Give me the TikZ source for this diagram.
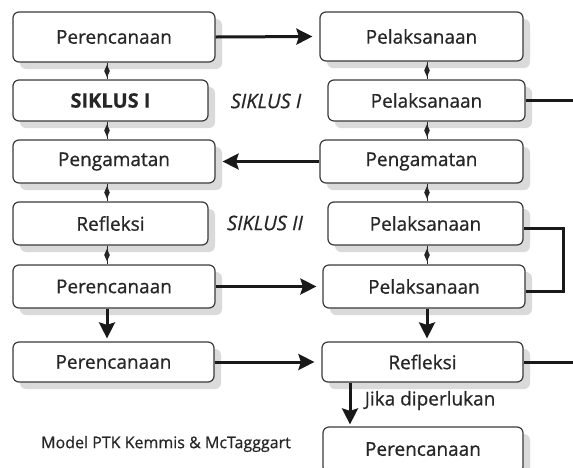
\documentclass[tikz,border=0pt]{standalone}
\usepackage{fontspec}
\setmainfont{Open Sans}
\newfontfamily\boxfont{Open Sans}[FakeBold=0.7]
\newfontfamily\boxbold{Open Sans Bold}[FakeBold=0.3]
\newfontfamily\labelfont{Open Sans Italic}[FakeBold=0.5]
\usetikzlibrary{shapes.geometric,shadows,arrows.meta}
\definecolor{bordergray}{HTML}{3A3A3A}
\definecolor{textgray}{HTML}{262626}
\definecolor{shadowgray}{HTML}{DADADA}
\tikzset{
  box/.style={draw=bordergray, line width=1.2pt, rounded corners=6pt, fill=white,
    drop shadow={shadow xshift=7pt, shadow yshift=-7pt, fill=shadowgray, opacity=1},
    text=textgray, font=\boxfont\fontsize{19}{21}\selectfont, inner sep=0pt},
  flow/.style={line width=3pt, draw=black!90, -{Stealth[length=16pt,width=16pt,inset=2.5pt]}},
  plainline/.style={line width=3pt, draw=black!90},
  link/.style={line width=1pt, draw=black!85},
  dia/.style={diamond, fill=black!85, inner sep=0pt, minimum width=6pt, minimum height=13pt},
  cyclelabel/.style={text=textgray, font=\labelfont\fontsize{20}{22}\selectfont},
}
\begin{document}
\begin{tikzpicture}[x=1pt,y=-1pt]
\useasboundingbox (0,0) rectangle (573,467);
\clip (0,0) rectangle (573,467);
% left column
\node[box, minimum width=202pt, minimum height=50pt] (L1) at (114,37) {Perencanaan};
\node[box, minimum width=195pt, minimum height=41pt, font=\boxbold\fontsize{20}{22}\selectfont] (L2) at (110.5,100.5) {SIKLUS I};
\node[box, minimum width=202pt, minimum height=43pt] (L3) at (114,161.5) {Pengamatan};
\node[box, minimum width=195pt, minimum height=43pt] (L4) at (110.5,223.5) {Refleksi};
\node[box, minimum width=202pt, minimum height=43pt] (L5) at (114,286.5) {Perencanaan};
\node[box, minimum width=201pt, minimum height=40pt] (L6) at (113.5,362) {Perencanaan};
% right column
\node[box, minimum width=203pt, minimum height=49pt] (R1) at (421.5,36.5) {Pelaksanaan};
\node[box, minimum width=197pt, minimum height=41pt] (R2) at (426.5,100.5) {Pelaksanaan};
\node[box, minimum width=203pt, minimum height=43pt] (R3) at (421.5,161.5) {Pengamatan};
\node[box, minimum width=195pt, minimum height=43pt] (R4) at (425.5,223.5) {Pelaksanaan};
\node[box, minimum width=202pt, minimum height=43pt] (R5) at (424,286.5) {Pelaksanaan};
\node[box, minimum width=201pt, minimum height=40pt] (R6) at (422.5,362) {Refleksi};
\node[box, minimum width=200pt, minimum height=46pt, text depth=0pt] (R7) at (423,450) {\raisebox{2pt}{Perencanaan}};
% labels
\node[cyclelabel] (S1) at (266,101) {SIKLUS I};
\node[cyclelabel] (S2) at (265,223) {SIKLUS II};
\node[text=textgray, font=\boxfont\fontsize{16}{18}\selectfont] (cap) at (166,444) {Model PTK Kemmis \& McTagggart};
% diamond links
\foreach \a/\b in {L1/L2,L2/L3,L3/L4,L4/L5}{
  \draw[link] (107,0 |- \a.south) -- (107,0 |- \b.north) node[dia, midway] {};
}
\foreach \a/\b in {R1/R2,R2/R3,R3/R4,R4/R5}{
  \draw[link] (427,0 |- \a.south) -- (427,0 |- \b.north) node[dia, midway] {};
}
% coordinates for free ends
\coordinate (E2) at (573,100.5);
\coordinate (E6) at (573,362);
\coordinate (loopx) at (563,0);
\coordinate (r4e) at ([yshift=-5pt]R4.east);
\coordinate (r5e) at ([yshift=-5pt]R5.east);
% flows
\draw[flow] (L1.east) -- ([xshift=-7pt]R1.west);
\draw[plainline] (R2.east) -- (E2);
\draw[flow] (R3.west) -- ([xshift=7pt]L3.east);
\draw[plainline] (r4e) -- (loopx |- r4e) -- (loopx |- r5e) -- (r5e);
\draw[flow] (L5.east) -- ([xshift=-6pt]R5.west);
\draw[flow] (107,0 |- L5.south) -- ([yshift=3pt]107,0 |- L6.north);
\draw[flow] (427,0 |- R5.south) -- ([yshift=3pt]427,0 |- R6.north);
\draw[flow] (L6.east) -- ([xshift=-7pt]R6.west);
\draw[plainline] (R6.east) -- (E6);
\draw[flow] (350,0 |- R6.south) -- ([yshift=2pt]350,0 |- R7.north)
  node[midway, right, xshift=10pt, yshift=3pt, text=textgray, font=\boxfont\fontsize{19}{21}\selectfont] (jika) {Jika diperlukan};
\end{tikzpicture}
\end{document}
